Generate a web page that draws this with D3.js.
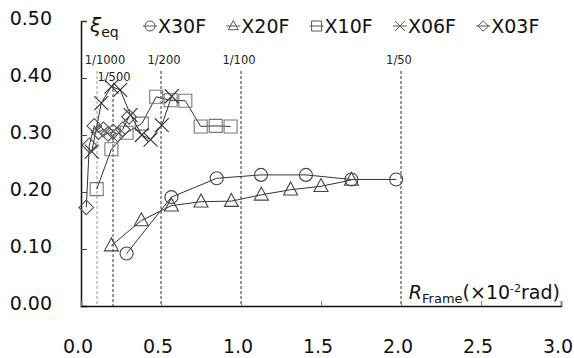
<!DOCTYPE html>
<html>
<head>
<meta charset="utf-8">
<script src="https://cdn.jsdelivr.net/npm/d3@7"></script>
<style>
  body { margin: 0; background: #fff; }
  text { font-family: "DejaVu Sans", Verdana, sans-serif; fill: #111; }
</style>
</head>
<body>
<div class="canva"></div>
<script>
// series data (drift in x10^-2 rad, equivalent damping)
const seriesNames = ["X30F", "X20F", "X10F", "X06F", "X03F"];
const x30fDrift = [0.285, 0.565, 0.848, 1.125, 1.406, 1.69, 1.97];
const x30fXi    = [0.092, 0.191, 0.224, 0.230, 0.230, 0.222, 0.222];
const x20fDrift = [0.19, 0.377, 0.565, 0.75, 0.94, 1.127, 1.31, 1.50, 1.69];
const x20fXi    = [0.106, 0.150, 0.176, 0.183, 0.184, 0.195, 0.204, 0.210, 0.221];
const x10fDrift = [0.098, 0.19, 0.285, 0.38, 0.47, 0.56, 0.652, 0.748, 0.842, 0.935];
const x10fXi    = [0.205, 0.275, 0.304, 0.320, 0.367, 0.361, 0.360, 0.315, 0.316, 0.315];
const x06fDrift = [0.067, 0.127, 0.19, 0.245, 0.31, 0.38, 0.435, 0.505, 0.567];
const x06fXi    = [0.271, 0.356, 0.385, 0.379, 0.335, 0.300, 0.292, 0.3175, 0.368];
const x03fDrift = [0.033, 0.052, 0.083, 0.11, 0.14, 0.17, 0.2, 0.23, 0.26, 0.30];
const x03fXi    = [0.173, 0.282, 0.316, 0.305, 0.310, 0.302, 0.306, 0.301, 0.310, 0.332];

// reference drift lines
const refLabels = ["1/1000", "1/500", "1/200", "1/100", "1/50"];
const refDrift  = [0.1, 0.2, 0.5, 1.0, 2.0];

const xTicks = [0, 0.5, 1.0, 1.5, 2.0, 2.5, 3.0];
const yTicks = [0, 0.1, 0.2, 0.3, 0.4, 0.5];

const width = 574, height = 358;
const svg = d3.select(".canva").append("svg")
              .attr("width", width)
              .attr("height", height);

const x = d3.scaleLinear().domain([0, 3]).range([81, 561]);
const y = d3.scaleLinear().domain([0, 0.5]).range([306, 21]);

// marker shapes, drawn around (0,0)
function markerPath(type, s) {
  switch (type) {
    case "circle":
      return `M${s},0A${s},${s} 0 1,1 ${-s},0A${s},${s} 0 1,1 ${s},0Z`;
    case "triangle":
      return `M0,${-s * 1.1}L${s},${s * 0.75}L${-s},${s * 0.75}Z`;
    case "square":
      return `M${-s},${-s}H${s}V${s}H${-s}Z`;
    case "times":
      return `M${-s},${-s}L${s},${s}M${-s},${s}L${s},${-s}`;
    case "diamond":
      return `M0,${-s * 1.05}L${s * 1.05},0L0,${s * 1.05}L${-s * 1.05},0Z`;
  }
}

const series = [
  {name: seriesNames[0], drift: x30fDrift, xi: x30fXi, shape: "circle",   size: 6.5, color: "#444"},
  {name: seriesNames[1], drift: x20fDrift, xi: x20fXi, shape: "triangle", size: 7,   color: "#444"},
  {name: seriesNames[2], drift: x10fDrift, xi: x10fXi, shape: "square",   size: 6.5, color: "#777"},
  {name: seriesNames[3], drift: x06fDrift, xi: x06fXi, shape: "times",    size: 7,   color: "#333"},
  {name: seriesNames[4], drift: x03fDrift, xi: x03fXi, shape: "diamond",  size: 7,   color: "#555"}
];

// reference dashed lines
const refG = svg.append("g");
refDrift.forEach((d, i) => {
  const top = i === 1 ? 84 : 71;
  refG.append("line")
      .attr("x1", x(d)).attr("x2", x(d))
      .attr("y1", top).attr("y2", y(0))
      .attr("stroke", i === 0 ? "#999" : "#333")
      .attr("stroke-width", 1)
      .attr("stroke-dasharray", "3,2");
  refG.append("text")
      .attr("x", x(d) + (i === 0 ? 8 : i === 1 ? 1 : i === 2 ? 3 : -2))
      .attr("y", i === 1 ? 81 : 64)
      .attr("text-anchor", "middle")
      .attr("font-size", 11.5)
      .style("fill", "#222")
      .text(refLabels[i]);
});

// axes
const yAxis = d3.axisRight(y).tickValues(yTicks).tickSize(6).tickFormat("");
svg.append("g")
   .attr("transform", `translate(${x(0)},0)`)
   .call(yAxis)
   .call(g => g.select(".domain").attr("stroke", "#111").attr("stroke-width", 1.5))
   .call(g => g.selectAll(".tick line").attr("stroke", "#444"));

const xAxis = d3.axisTop(x).tickValues(xTicks).tickSize(5).tickFormat("");
svg.append("g")
   .attr("transform", `translate(0,${y(0)})`)
   .call(xAxis)
   .call(g => g.select(".domain").attr("stroke", "#111").attr("stroke-width", 1.5))
   .call(g => g.selectAll(".tick line").attr("stroke", "#888"));

// tick labels
svg.append("g").selectAll("text")
   .data(yTicks)
   .join("text")
   .attr("x", 52)
   .attr("y", d => y(d) + 4)
   .attr("text-anchor", "end")
   .attr("font-size", 19)
   .text(d => d.toFixed(2));

svg.append("g").selectAll("text")
   .data(xTicks)
   .join("text")
   .attr("x", d => x(d) - 3)
   .attr("y", 353)
   .attr("text-anchor", "middle")
   .attr("font-size", 19)
   .text(d => d.toFixed(1));

// series lines and markers
const line = d3.line().x(d => x(d[0])).y(d => y(d[1]));
series.forEach(s => {
  const pts = s.drift.map((d, i) => [d, s.xi[i]]);
  svg.append("path")
     .datum(pts)
     .attr("d", line)
     .attr("fill", "none")
     .attr("stroke", "#333")
     .attr("stroke-width", 1);
  svg.append("g").selectAll("path")
     .data(pts)
     .join("path")
     .attr("d", markerPath(s.shape, s.size))
     .attr("transform", d => `translate(${x(d[0])},${y(d[1])})`)
     .attr("fill", "none")
     .attr("stroke", s.color)
     .attr("stroke-width", 1.1);
});

// y-axis title
const yTitle = svg.append("text")
   .attr("x", 90).attr("y", 32)
   .attr("font-size", 20);
yTitle.append("tspan").attr("font-style", "italic").text("ξ");
yTitle.append("tspan").attr("font-size", 14).attr("dy", 5).text("eq");

// legend
const legend = svg.append("g");
series.forEach((s, i) => {
  const cx = 150 + i * 83.3, cy = 26;
  legend.append("line")
        .attr("x1", cx - 7).attr("x2", cx + 7)
        .attr("y1", cy).attr("y2", cy)
        .attr("stroke", "#555").attr("stroke-width", 1);
  legend.append("path")
        .attr("d", markerPath(s.shape, 5))
        .attr("transform", `translate(${cx},${cy})`)
        .attr("fill", "none")
        .attr("stroke", "#555")
        .attr("stroke-width", 1);
  legend.append("text")
        .attr("x", cx + 8).attr("y", cy + 7)
        .attr("font-size", 19)
        .text(s.name);
});

// x-axis title
const xTitle = svg.append("text")
   .attr("x", 560).attr("y", 299)
   .attr("text-anchor", "end")
   .attr("font-size", 19);
xTitle.append("tspan").attr("font-style", "italic").text("R");
xTitle.append("tspan").attr("font-size", 13).attr("dy", 4).text("Frame");
xTitle.append("tspan").attr("dy", -4).text("(×10");
xTitle.append("tspan").attr("font-size", 11).attr("dy", -7).text("-2");
xTitle.append("tspan").attr("dy", 7).text("rad)");
</script>
</body>
</html>
